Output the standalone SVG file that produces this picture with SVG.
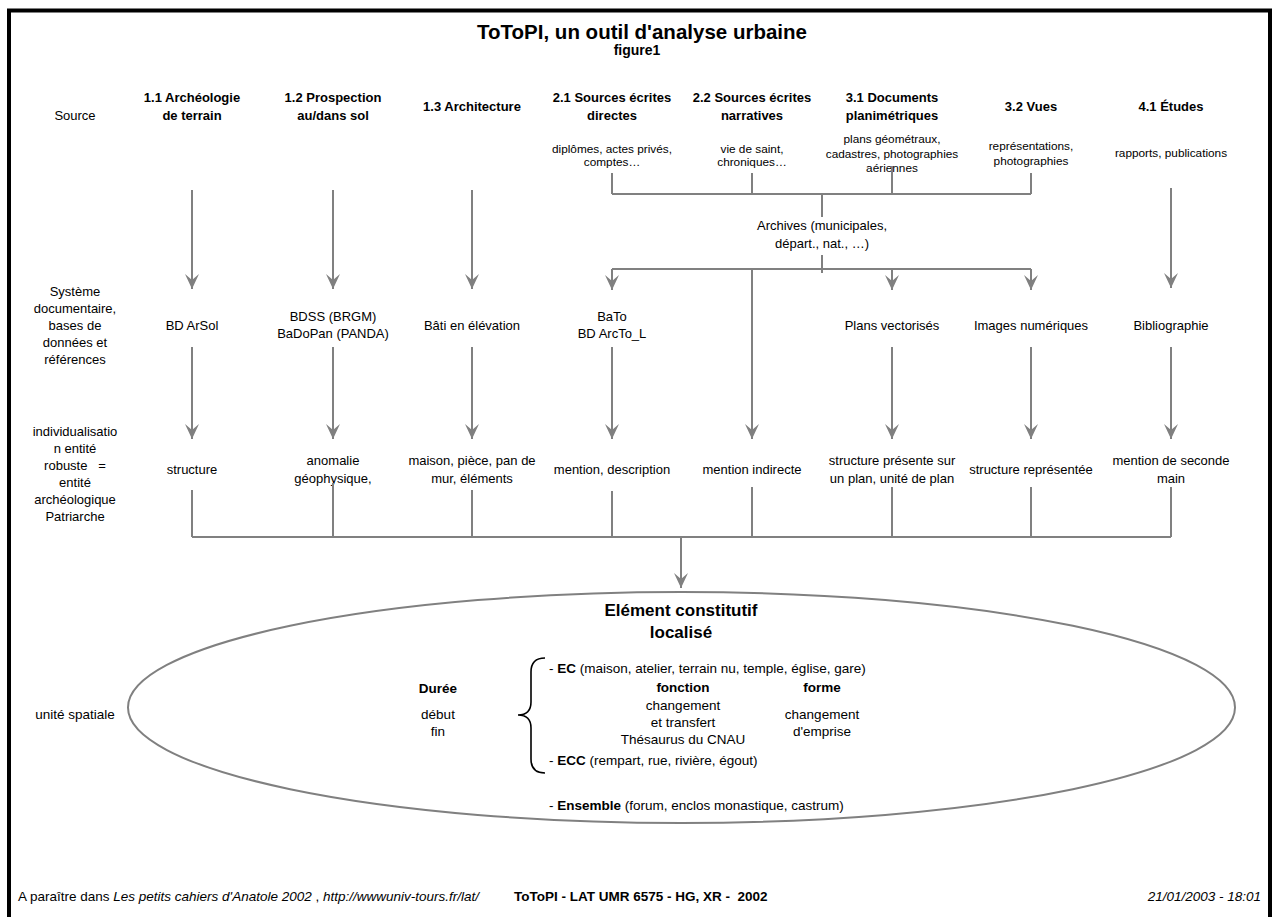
<svg xmlns="http://www.w3.org/2000/svg" width="1274" height="917" viewBox="0 0 1274 917">
<style>
text{font-family:"Liberation Sans",Arial,sans-serif;fill:#000}
.t{font-size:20.5px;font-weight:bold;text-anchor:middle}
.f{font-size:14px;font-weight:bold;text-anchor:middle}
.h{font-size:13px;font-weight:bold;text-anchor:middle}
.r{font-size:13px;text-anchor:middle}
.e{font-size:13.5px;text-anchor:middle}
.s{font-size:11.8px;text-anchor:middle}
.l{font-size:13.5px;text-anchor:start}
.b{font-weight:bold}
.i{font-style:italic}
.ft{font-size:13.5px}
.c{fill:none;stroke:#808080;stroke-width:2}
.ca{fill:none;stroke:#808080;stroke-width:2;marker-end:url(#ah)}
</style>
<defs>
<marker id="ah" markerUnits="userSpaceOnUse" viewBox="-16 -8 17 16" refX="0" refY="0" markerWidth="17" markerHeight="16" orient="auto">
<path d="M0,0 L-15,-7 L-9,0 L-15,7 Z" fill="#808080"/>
</marker>
</defs>
<rect x="0" y="0" width="1274" height="917" fill="#fff"/>
<rect id="frame" x="9" y="10.5" width="1261" height="940" fill="none" stroke="#000" stroke-width="4"/>

<g id="title">
<text class="t" x="642" y="39">ToToPI, un outil d'analyse urbaine</text>
<text class="f" x="637" y="55">figure1</text>
</g>

<g id="row-labels">
<text class="r" x="75" y="119.5">Source</text>
<text class="r" x="75" y="295.5">Système</text>
<text class="r" x="75" y="312.5">documentaire,</text>
<text class="r" x="75" y="329.5">bases de</text>
<text class="r" x="75" y="346.5">données et</text>
<text class="r" x="75" y="363.5">références</text>
<text class="r" x="75" y="435.5">individualisatio</text>
<text class="r" x="75" y="452.5">n entité</text>
<text class="r" x="75" y="469.5" xml:space="preserve">robuste   =</text>
<text class="r" x="75" y="486.5">entité</text>
<text class="r" x="75" y="503.5">archéologique</text>
<text class="r" x="75" y="520.5">Patriarche</text>
<text class="e" x="75" y="718.5">unité spatiale</text>
</g>

<g id="src-1-1"><text class="h" x="192" y="101.5">1.1 Archéologie</text><text class="h" x="192" y="119.5">de terrain</text></g>
<g id="src-1-2"><text class="h" x="333" y="101.5">1.2 Prospection</text><text class="h" x="333" y="119.5">au/dans sol</text></g>
<g id="src-1-3"><text class="h" x="472" y="110.5">1.3 Architecture</text></g>
<g id="src-2-1"><text class="h" x="612" y="101.5">2.1 Sources écrites</text><text class="h" x="612" y="119.5">directes</text>
<text class="s" x="612" y="153">diplômes, actes privés,</text><text class="s" x="612" y="166">comptes…</text></g>
<g id="src-2-2"><text class="h" x="752" y="101.5">2.2 Sources écrites</text><text class="h" x="752" y="119.5">narratives</text>
<text class="s" x="752" y="153">vie de saint,</text><text class="s" x="752" y="166">chroniques…</text></g>
<g id="src-3-1"><text class="h" x="892" y="101.5">3.1 Documents</text><text class="h" x="892" y="119.5">planimétriques</text>
<text class="s" x="892" y="143">plans géométraux,</text><text class="s" x="892" y="158">cadastres, photographies</text><text class="s" x="892" y="172">aériennes</text></g>
<g id="src-3-2"><text class="h" x="1031" y="110.5">3.2 Vues</text>
<text class="s" x="1031" y="150">représentations,</text><text class="s" x="1031" y="165">photographies</text></g>
<g id="src-4-1"><text class="h" x="1171" y="110.5">4.1 Études</text>
<text class="s" x="1171" y="157">rapports, publications</text></g>

<g id="archives"><text class="r" x="822" y="229.5">Archives (municipales,</text><text class="r" x="822" y="247.5">départ., nat., …)</text></g>

<g id="db-arsol"><text class="r" x="192" y="329.5">BD ArSol</text></g>
<g id="db-bdss"><text class="r" x="333" y="320.5">BDSS (BRGM)</text><text class="r" x="333" y="337.5">BaDoPan (PANDA)</text></g>
<g id="db-bati"><text class="r" x="472" y="329.5">Bâti en élévation</text></g>
<g id="db-bato"><text class="r" x="612" y="320.5">BaTo</text><text class="r" x="612" y="337.5">BD ArcTo_L</text></g>
<g id="db-plans"><text class="r" x="892" y="329.5">Plans vectorisés</text></g>
<g id="db-images"><text class="r" x="1031" y="329.5">Images numériques</text></g>
<g id="db-biblio"><text class="r" x="1171" y="329.5">Bibliographie</text></g>

<g id="ent-structure"><text class="r" x="192" y="473.5">structure</text></g>
<g id="ent-anomalie"><text class="r" x="333" y="464.5">anomalie</text><text class="r" x="333" y="482.5">géophysique,</text></g>
<g id="ent-maison"><text class="r" x="472" y="464.5">maison, pièce, pan de</text><text class="r" x="472" y="482.5">mur, éléments</text></g>
<g id="ent-mention"><text class="r" x="612" y="473.5">mention, description</text></g>
<g id="ent-indirecte"><text class="r" x="752" y="473.5">mention indirecte</text></g>
<g id="ent-plan"><text class="r" x="892" y="464.5">structure présente sur</text><text class="r" x="892" y="482.5">un plan, unité de plan</text></g>
<g id="ent-represente"><text class="r" x="1031" y="473.5">structure représentée</text></g>
<g id="ent-seconde"><text class="r" x="1171" y="464.5">mention de seconde</text><text class="r" x="1171" y="482.5">main</text></g>

<g id="element">
<ellipse cx="681.5" cy="707.5" rx="553.5" ry="115.5" fill="none" stroke="#808080" stroke-width="2"/>
<text x="681" y="616" style="font-size:17px;font-weight:bold;text-anchor:middle">Elément constitutif</text>
<text x="681" y="638" style="font-size:17px;font-weight:bold;text-anchor:middle">localisé</text>
<text class="e b" x="438" y="692.5">Durée</text>
<text class="e" x="438" y="718.5">début</text>
<text class="e" x="438" y="735.5">fin</text>
<path d="M545,658 Q531,658 531,672 L531,702 Q531,715 518,715 Q531,715 531,728 L531,759 Q531,773 545,773" fill="none" stroke="#000" stroke-width="1.6"/>
<text class="l" x="549" y="672.5">- <tspan class="b">EC</tspan> (maison, atelier, terrain nu, temple, église, gare)</text>
<text class="e b" x="683" y="691.5">fonction</text>
<text class="e b" x="822" y="691.5">forme</text>
<text class="e" x="683" y="709.5">changement</text>
<text class="e" x="683" y="726.5">et transfert</text>
<text class="e" x="683" y="743.5">Thésaurus du CNAU</text>
<text class="e" x="822" y="718.5">changement</text>
<text class="e" x="822" y="735.5">d'emprise</text>
<text class="l" x="549" y="764.5">- <tspan class="b">ECC</tspan> (rempart, rue, rivière, égout)</text>
<text class="l" x="549" y="809.5">- <tspan class="b">Ensemble</tspan> (forum, enclos monastique, castrum)</text>
</g>

<g id="connectors">
<path class="ca" d="M192,190 V289"/>
<path class="ca" d="M333,190 V289"/>
<path class="ca" d="M472,190 V289"/>
<path class="ca" d="M1171,188 V288"/>
<path class="c" d="M612,173 V194 M752,173 V194 M892,166 V194 M1031,173 V194 M612,194 H1031 M822,194 V217"/>
<path class="c" d="M822,255 V273 M612,269 H1031"/>
<path class="ca" d="M612,269 V290"/>
<path class="ca" d="M892,269 V290"/>
<path class="ca" d="M1031,269 V290"/>
<path class="ca" d="M752,269 V439"/>
<path class="ca" d="M192,347 V439"/>
<path class="ca" d="M333,347 V439"/>
<path class="ca" d="M472,347 V439"/>
<path class="ca" d="M612,347 V439"/>
<path class="ca" d="M892,347 V439"/>
<path class="ca" d="M1031,347 V439"/>
<path class="ca" d="M1171,347 V439"/>
<path class="c" d="M192,490 V537 M333,483 V537 M472,490 V537 M612,491 V537 M752,487 V537 M892,487 V537 M1031,487 V537 M1171,487 V537 M192,537 H1171"/>
<path class="ca" d="M681,537 V588"/>
</g>

<g id="footer">
<text class="ft" x="18" y="901">A paraître dans <tspan class="i">Les petits cahiers d'Anatole 2002</tspan> , <tspan class="i">http://wwwuniv-tours.fr/lat/</tspan></text>
<text class="ft b" x="514" y="901" xml:space="preserve">ToToPI - LAT UMR 6575 - HG, XR -  2002</text>
<text class="ft i" x="1261" y="901" text-anchor="end">21/01/2003 - 18:01</text>
</g>
</svg>
